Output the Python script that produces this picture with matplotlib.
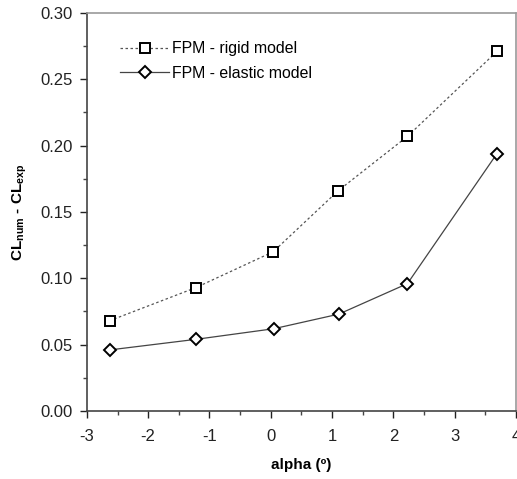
import matplotlib
matplotlib.use("Agg")
import matplotlib.pyplot as plt
from matplotlib.ticker import MultipleLocator

plt.rcParams["font.family"] = ["Liberation Sans", "DejaVu Sans"]
plt.rcParams["mathtext.fontset"] = "custom"
plt.rcParams["mathtext.rm"] = "Liberation Sans"
plt.rcParams["mathtext.bf"] = "Liberation Sans:bold"
plt.rcParams["axes.unicode_minus"] = False

alpha_rigid = [-2.63, -1.22, 0.04, 1.10, 2.23, 3.69]
dcl_rigid = [0.068, 0.093, 0.120, 0.166, 0.207, 0.271]
alpha_elastic = [-2.63, -1.22, 0.05, 1.11, 2.23, 3.69]
dcl_elastic = [0.046, 0.054, 0.062, 0.073, 0.096, 0.194]

fig = plt.figure(figsize=(5.17, 4.79), dpi=100)
ax = fig.add_axes([0.168, 0.142, 0.830, 0.831])

ax.plot(alpha_rigid, dcl_rigid, linestyle=(0, (2, 2)), color="#555555", linewidth=0.9,
        marker="s", markersize=7.5, markerfacecolor="white", markeredgecolor="black",
        markeredgewidth=1.4, label="FPM - rigid model")
ax.plot(alpha_elastic, dcl_elastic, linestyle="-", color="#444444", linewidth=0.9,
        marker="D", markersize=6, markerfacecolor="white", markeredgecolor="black",
        markeredgewidth=1.4, label="FPM - elastic model")

ax.set_xlim(-3, 4)
ax.set_ylim(0, 0.30)
ax.xaxis.set_major_locator(MultipleLocator(1))
ax.xaxis.set_minor_locator(MultipleLocator(0.5))
ax.yaxis.set_major_locator(MultipleLocator(0.05))
ax.yaxis.set_minor_locator(MultipleLocator(0.025))
ax.yaxis.set_major_formatter(plt.FuncFormatter(lambda v, p: f"{v:.2f}"))
ax.tick_params(which="major", direction="out", length=5, width=1, labelsize=12, colors="#222222")
ax.tick_params(which="minor", direction="out", length=3, width=1, colors="#444444")
ax.tick_params(axis="x", pad=8)
ax.tick_params(axis="y", pad=5)

for side in ("left", "bottom"):
    ax.spines[side].set_color("#444444")
    ax.spines[side].set_linewidth(1.2)
for side in ("top", "right"):
    ax.spines[side].set_color("#999999")
    ax.spines[side].set_linewidth(1.2)

ax.set_xlabel("alpha (º)", fontsize=11, fontweight="bold", labelpad=10)
ax.set_ylabel(r"CL$_\mathbf{num}$ - CL$_\mathbf{exp}$", fontsize=11, fontweight="bold", labelpad=8)

ax.legend(loc="upper left", frameon=False, fontsize=11.4, bbox_to_anchor=(0.045, 0.965),
          handlelength=3.1, handletextpad=0.15, labelspacing=0.6)

fig.savefig("out.png", dpi=100)
